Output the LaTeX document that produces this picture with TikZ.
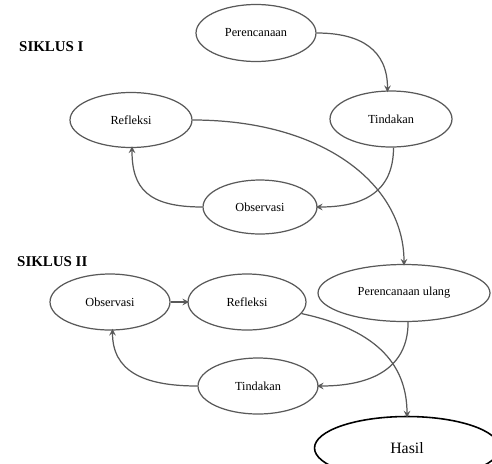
\documentclass[tikz,border=0pt]{standalone}
\usepackage{fontspec}
\setmainfont{Liberation Serif}
\usetikzlibrary{shapes.geometric,arrows}
\begin{document}
\begin{tikzpicture}[x=0.02cm,y=-0.02cm,>=stealth,
	tahap/.style={ellipse,draw=black!65,line width=0.7pt,inner sep=0pt,minimum width=2.4cm,minimum height=1.12cm,font=\fontsize{7}{8}\selectfont},
	alur/.style={->,draw=black!65,line width=0.7pt,shorten >=-1pt},
	siklus/.style={font=\fontsize{8.5}{10}\selectfont\bfseries,anchor=west}]
				\clip (0,0) rectangle (492,463);
				\node[siklus] (s1) at (13,47) {SIKLUS I};
				\node[siklus] (s2) at (11,262) {SIKLUS II};
				\node[tahap,minimum height=1.14cm] (per1) at (256,33) {Perencanaan};
				\node[tahap,minimum width=2.44cm] (tin1) at (391,119) {Tindakan};
				\node[tahap,minimum width=2.44cm,minimum height=1.1cm] (ref1) at (131,120) {Refleksi};
				\node[tahap,minimum width=2.28cm,minimum height=1.08cm] (obs1) at (260,207) {Observasi};
				\node[tahap] (obs2) at (110,302) {Observasi};
				\node[tahap,minimum width=2.36cm] (ref2) at (247,302) {Refleksi};
				\node[tahap,minimum width=3.44cm,minimum height=1.14cm] (per2) at (404,293) {Perencanaan ulang};
				\node[tahap] (tin2) at (258,386) {Tindakan};
				\node[tahap,draw=black,line width=0.9pt,minimum width=3.7cm,minimum height=1.26cm,font=\fontsize{9}{10}\selectfont] (hasil) at (407,448) {Hasil};
				\draw[alur] (per1.east) .. controls +(45,0) and +(0,-40) .. (tin1.97);
				\draw[alur] (tin1.-85) .. controls +(0,45) and +(45,0) .. (obs1.east);
				\draw[alur] (obs1.west) .. controls +(-55,0) and +(0,40) .. (ref1.-88);
				\draw[alur] (ref1.east) .. controls +(130,0) and +(0,-80) .. (per2.north);
				\draw[alur] (obs2.east) -- (ref2.west);
				\draw[alur] (ref2.-12) .. controls +(70,15) and +(0,-55) .. (hasil.north);
				\draw[alur] (per2.-82) .. controls +(0,45) and +(55,0) .. (tin2.east);
				\draw[alur] (tin2.west) .. controls +(-55,0) and +(0,40) .. (obs2.-85);
			\end{tikzpicture}
\end{document}
